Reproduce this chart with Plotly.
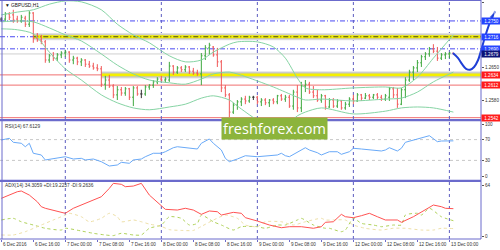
import plotly.graph_objects as go

# ---------------- data ----------------
bar_index = list(range(114))
opens = [1.2754,1.2754,1.2765,1.2763,1.2754,1.2750,1.2756,1.2743,1.2767,1.2713,
         1.2709,1.2705,1.2666,1.2675,1.2670,1.2677,1.2681,1.2683,1.2666,1.2670,
         1.2662,1.2666,1.2657,1.2653,1.2649,1.2647,1.2614,1.2623,1.2610,1.2591,
         1.2602,1.2595,1.2604,1.2586,1.2606,1.2593,1.2593,1.2608,1.2612,1.2619,
         1.2625,1.2623,1.2623,1.2653,1.2640,1.2649,1.2645,1.2651,1.2642,1.2638,
         1.2636,1.2675,1.2692,1.2694,1.2677,1.2662,1.2606,1.2591,1.2554,1.2569,
         1.2576,1.2582,1.2578,1.2586,1.2586,1.2576,1.2580,1.2574,1.2580,1.2576,
         1.2589,1.2582,1.2586,1.2567,1.2597,1.2563,1.2610,1.2614,1.2597,1.2589,
         1.2580,1.2589,1.2565,1.2580,1.2567,1.2578,1.2563,1.2571,1.2582,1.2578,
         1.2591,1.2584,1.2589,1.2586,1.2591,1.2586,1.2582,1.2586,1.2604,1.2591,
         1.2571,1.2602,1.2623,1.2640,1.2649,1.2660,1.2673,1.2679,1.2690,1.2685,
         1.2670,1.2677,1.2679,1.2681]
highs = [1.2758,1.2769,1.2769,1.2774,1.2761,1.2763,1.2761,1.2771,1.2769,1.2724,
         1.2720,1.2709,1.2679,1.2683,1.2681,1.2685,1.2688,1.2685,1.2675,1.2673,
         1.2670,1.2668,1.2664,1.2660,1.2657,1.2653,1.2632,1.2634,1.2614,1.2610,
         1.2608,1.2608,1.2606,1.2610,1.2610,1.2602,1.2612,1.2614,1.2623,1.2629,
         1.2632,1.2629,1.2662,1.2655,1.2653,1.2653,1.2655,1.2653,1.2649,1.2645,
         1.2681,1.2698,1.2703,1.2696,1.2692,1.2666,1.2612,1.2595,1.2574,1.2580,
         1.2586,1.2589,1.2589,1.2589,1.2589,1.2584,1.2584,1.2582,1.2584,1.2591,
         1.2593,1.2591,1.2591,1.2602,1.2612,1.2619,1.2623,1.2619,1.2610,1.2602,
         1.2593,1.2591,1.2584,1.2584,1.2582,1.2580,1.2576,1.2586,1.2591,1.2595,
         1.2593,1.2595,1.2593,1.2593,1.2595,1.2591,1.2593,1.2608,1.2608,1.2606,
         1.2606,1.2629,1.2645,1.2653,1.2666,1.2677,1.2683,1.2694,1.2700,1.2694,
         1.2681,1.2683,1.2683,1.2681]
lows = [1.2748,1.2750,1.2752,1.2746,1.2746,1.2746,1.2737,1.2737,1.2703,1.2705,
        1.2700,1.2660,1.2660,1.2664,1.2664,1.2670,1.2673,1.2660,1.2657,1.2655,
        1.2653,1.2651,1.2649,1.2645,1.2642,1.2608,1.2602,1.2606,1.2584,1.2580,
        1.2589,1.2589,1.2580,1.2567,1.2589,1.2584,1.2589,1.2602,1.2606,1.2614,
        1.2619,1.2617,1.2619,1.2634,1.2636,1.2640,1.2640,1.2636,1.2634,1.2632,
        1.2612,1.2666,1.2677,1.2673,1.2651,1.2597,1.2586,1.2543,1.2550,1.2559,
        1.2567,1.2571,1.2574,1.2580,1.2571,1.2567,1.2569,1.2565,1.2571,1.2571,
        1.2578,1.2576,1.2563,1.2559,1.2554,1.2554,1.2597,1.2593,1.2584,1.2576,
        1.2574,1.2559,1.2563,1.2563,1.2563,1.2559,1.2559,1.2565,1.2571,1.2576,
        1.2578,1.2582,1.2580,1.2582,1.2582,1.2578,1.2578,1.2578,1.2584,1.2563,
        1.2569,1.2584,1.2619,1.2623,1.2640,1.2651,1.2666,1.2673,1.2681,1.2664,
        1.2666,1.2668,1.2670,1.2677]
closes = [1.2754,1.2765,1.2758,1.2752,1.2750,1.2758,1.2743,1.2767,1.2713,1.2709,
          1.2705,1.2666,1.2675,1.2670,1.2677,1.2681,1.2683,1.2666,1.2670,1.2662,
          1.2666,1.2657,1.2653,1.2649,1.2647,1.2614,1.2623,1.2610,1.2591,1.2602,
          1.2595,1.2604,1.2586,1.2606,1.2593,1.2593,1.2608,1.2612,1.2619,1.2625,
          1.2623,1.2625,1.2653,1.2640,1.2649,1.2645,1.2651,1.2642,1.2638,1.2636,
          1.2675,1.2692,1.2698,1.2677,1.2662,1.2606,1.2591,1.2554,1.2569,1.2576,
          1.2582,1.2578,1.2586,1.2586,1.2576,1.2580,1.2574,1.2580,1.2576,1.2589,
          1.2582,1.2586,1.2567,1.2597,1.2563,1.2610,1.2614,1.2597,1.2589,1.2580,
          1.2589,1.2565,1.2580,1.2567,1.2578,1.2563,1.2571,1.2582,1.2578,1.2591,
          1.2584,1.2589,1.2586,1.2591,1.2586,1.2582,1.2589,1.2604,1.2591,1.2571,
          1.2602,1.2623,1.2640,1.2649,1.2660,1.2673,1.2679,1.2690,1.2685,1.2670,
          1.2677,1.2679,1.2681,1.2679]

bb_index  = [0, 4, 8, 12, 16, 20, 25, 29, 33, 37, 42, 46, 50, 53, 57, 59, 64, 68,
             71, 74, 76, 80, 88, 96, 100, 104, 108, 113]
bb_upper  = [1.2763,1.2769,1.2774,1.2786,1.2793,1.2791,1.2774,1.2743,1.2720,1.2703,
             1.2675,1.2662,1.2666,1.2683,1.2700,1.2705,1.2705,1.2694,1.2670,1.2627,
             1.2606,1.2602,1.2606,1.2608,1.2606,1.2629,1.2670,1.2720]
bb_middle = [1.2748,1.2750,1.2748,1.2735,1.2720,1.2707,1.2679,1.2655,1.2636,1.2623,
             1.2617,1.2614,1.2625,1.2636,1.2640,1.2636,1.2621,1.2608,1.2597,1.2586,
             1.2580,1.2582,1.2578,1.2582,1.2584,1.2597,1.2619,1.2640]
bb_lower  = [1.2733,1.2731,1.2722,1.2683,1.2647,1.2623,1.2591,1.2574,1.2563,1.2559,
             1.2565,1.2571,1.2584,1.2589,1.2580,1.2567,1.2537,1.2522,1.2524,1.2546,
             1.2554,1.2563,1.2550,1.2556,1.2563,1.2565,1.2563,1.2554]

rsi_index  = [0,2,3,5,6,7,8,10,11,14,16,18,20,21,23,25,27,29,30,32,33,35,36,38,40,41,
              43,44,46,49,50,52,53,55,56,57,59,61,64,66,69,70,71,72,75,76,77,79,80,82,
              84,85,87,88,90,92,95,96,97,99,100,101,103,105,107,109,110,113]
rsi_values = [69.2,72.5,64.8,62.9,56.3,62.9,43.7,40.4,30.8,34.0,37.1,32.7,34.0,30.8,
              32.7,27.5,19.2,21.2,26.3,24.4,30.8,32.7,37.1,43.7,43.7,46.7,54.4,56.3,
              54.4,51.9,62.9,71.2,62.9,50.0,34.0,27.5,32.7,39.0,37.1,39.0,40.4,43.7,
              39.0,37.1,50.0,54.4,50.0,44.8,40.4,46.7,46.7,41.7,46.7,53.3,51.9,50.0,
              48.1,50.0,54.4,48.1,53.3,64.8,69.2,73.7,77.5,66.0,67.3,67.6]

adx_index  = [0,2,4,5,7,9,10,11,13,15,16,18,20,23,25,27,28,30,31,33,35,37,39,40,41,
              44,46,48,50,52,54,55,58,60,61,64,67,70,72,75,78,80,81,83,85,86,88,90,92,
              94,96,99,100,103,105,108,110,111,113]
adx_values = [47.3,51.4,55.6,56.5,51.4,43.0,36.8,34.8,32.6,29.7,28.5,34.8,38.9,45.2,
              49.3,59.8,66.1,64.9,61.9,62.7,66.1,51.4,43.0,38.9,33.5,32.6,34.8,32.6,
              27.2,31.4,30.5,26.3,29.7,28.5,23.0,18.8,13.8,10.4,11.7,11.7,9.7,11.7,
              17.2,17.9,27.2,24.2,23.0,25.5,28.5,24.2,20.1,20.1,17.2,24.2,30.5,38.9,
              36.8,34.8,34.3]
pdi_index  = [0,3,5,8,11,15,16,20,23,26,28,30,33,35,37,40,42,45,47,49,50,53,55,58,60,
              64,66,69,71,74,75,78,81,82,85,86,88,90,93,95,98,100,101,104,105,107,110,113]
pdi_values = [20.1,22.2,17.9,13.8,9.7,7.5,9.7,6.3,3.4,1.3,0.5,3.4,1.3,1.3,9.7,13.8,24.2,
              22.2,13.8,15.9,26.3,17.9,13.8,7.5,11.7,11.7,9.7,13.8,13.8,20.1,22.2,13.8,
              9.7,9.7,5.4,7.5,22.2,15.9,13.8,11.7,13.8,13.8,26.3,28.5,26.3,34.8,24.2,19.2]
mdi_index  = [0,3,6,10,13,16,17,20,22,25,27,29,30,33,35,37,40,42,45,48,50,53,56,59,61,
              64,66,70,73,76,80,81,83,86,88,91,95,98,101,105,108,110,113]
mdi_values = [1.3,1.3,5.4,13.8,20.1,26.3,28.5,24.2,17.9,22.2,28.5,24.2,17.9,20.1,17.9,
              15.0,12.0,8.0,7.0,7.0,12.0,20.0,26.3,22.2,13.8,11.7,17.9,17.9,13.8,17.9,
              22.2,20.1,20.1,20.1,13.8,9.7,7.5,9.7,9.7,7.5,7.5,9.7,9.3]

forecast_index = [112.9,114.2,115.2,116.2,117.2,118.2,119.2,119.9,120.9,121.9,122.8,123.5]
forecast_price = [1.2681,1.2670,1.2657,1.2647,1.2645,1.2651,1.2666,1.2685,1.2715,1.2741,1.2760,1.2771]

date_tick_index = [0, 8, 16, 24, 32, 40, 48, 56, 64, 72, 80, 88, 96, 104, 112]
date_tick_labels = ["6 Dec 2016", "6 Dec 16:00", "7 Dec 00:00", "7 Dec 08:00", "7 Dec 16:00",
                    "8 Dec 00:00", "8 Dec 08:00", "8 Dec 16:00", "9 Dec 00:00", "9 Dec 08:00",
                    "9 Dec 16:00", "12 Dec 00:00", "12 Dec 08:00", "12 Dec 16:00", "13 Dec 00:00"]
day_separators = [16, 40, 64, 88, 112]

main_ticks = [1.2790, 1.2650, 1.2580]
rsi_ticks = [0, 30, 70, 100]
rsi_levels = [30, 70]
adx_ticks = [0, 64]

blue_levels = [1.2750, 1.2716, 1.2690]
price_level = 1.2679
red_levels = [1.2634, 1.2612, 1.2542]
zone_levels = [1.2716, 1.2634]
zone_start = [8, 25]

# ---------------- styling ----------------
FONT = "Liberation Sans"
GREEN = "#3ea83e"
RED = "#f05858"
BB = "#86d4a4"
FRAME = "#6b6bcc"
PH = 239.0  # plot height in px (t=0, b=11)


def ppx(y):
    return (PH - y) / PH


fig = go.Figure()

up = [i for i in bar_index if closes[i] > opens[i]]
dn = [i for i in bar_index if closes[i] < opens[i]]
dj = [i for i in bar_index if closes[i] == opens[i]]
for sel, col in ((up, GREEN), (dn, RED), (dj, "#303030")):
    fig.add_trace(go.Ohlc(
        x=sel, open=[opens[i] for i in sel], high=[highs[i] for i in sel],
        low=[lows[i] for i in sel], close=[closes[i] for i in sel],
        increasing=dict(line=dict(color=col, width=1)),
        decreasing=dict(line=dict(color=col, width=1)),
        tickwidth=0.3, xaxis="x", yaxis="y", showlegend=False, hoverinfo="skip"))

for band in (bb_upper, bb_middle, bb_lower):
    fig.add_trace(go.Scatter(x=bb_index, y=band, mode="lines",
                             line=dict(color=BB, width=1, shape="spline", smoothing=0.8),
                             xaxis="x", yaxis="y", showlegend=False, hoverinfo="skip"))

fig.add_trace(go.Scatter(x=rsi_index, y=rsi_values, mode="lines",
                         line=dict(color="#6aaaf8", width=1),
                         xaxis="x", yaxis="y2", showlegend=False, hoverinfo="skip"))

fig.add_trace(go.Scatter(x=pdi_index, y=pdi_values, mode="lines",
                         line=dict(color="#b0d25a", width=1, dash="dot", shape="spline", smoothing=0.6),
                         xaxis="x", yaxis="y3", showlegend=False, hoverinfo="skip"))
fig.add_trace(go.Scatter(x=mdi_index, y=mdi_values, mode="lines",
                         line=dict(color="#eee0a8", width=1, dash="dot", shape="spline", smoothing=0.6),
                         xaxis="x", yaxis="y3", showlegend=False, hoverinfo="skip"))
fig.add_trace(go.Scatter(x=adx_index, y=adx_values, mode="lines",
                         line=dict(color="#ff5252", width=1),
                         xaxis="x", yaxis="y3", showlegend=False, hoverinfo="skip"))

# hand-drawn forecast arrow (extends past the price axis)
fig.add_trace(go.Scatter(x=forecast_index, y=forecast_price, mode="lines+markers",
                         line=dict(color="#1f3fd6", width=2, shape="spline", smoothing=1),
                         marker=dict(symbol="arrow", angleref="previous", color="#1f3fd6",
                                     size=[0] * (len(forecast_index) - 1) + [9]),
                         xaxis="x2", yaxis="y", showlegend=False, hoverinfo="skip"))

shapes = []
# zones (gray shadow + yellow)
for lvl, st in zip(zone_levels, zone_start):
    for half, col in ((0.00078, "#e2e2e2"), (0.00055, "#c4c4c4"), (0.00032, "#f4f000")):
        shapes.append(dict(type="rect", xref="x", yref="y", x0=st, x1=119.9,
                           y0=lvl - half, y1=lvl + half, fillcolor=col,
                           line=dict(width=0), layer="below"))
# level lines
for lvl in blue_levels:
    shapes.append(dict(type="line", xref="paper", yref="y", x0=0, x1=0.962, y0=lvl, y1=lvl,
                       line=dict(color="#4a4af2", width=1, dash="5px,2px,1px,2px"), layer="below"))
shapes.append(dict(type="line", xref="x", yref="y", x0=zone_start[0], x1=119.9,
                   y0=zone_levels[0], y1=zone_levels[0],
                   line=dict(color="#4a4a20", width=1, dash="5px,2px,1px,2px"), layer="below"))
shapes.append(dict(type="line", xref="paper", yref="y", x0=0, x1=0.962, y0=price_level, y1=price_level,
                   line=dict(color="#cfcfcf", width=1), layer="below"))
for lvl in red_levels:
    shapes.append(dict(type="line", xref="paper", yref="y", x0=0, x1=0.962, y0=lvl, y1=lvl,
                       line=dict(color="#f07070", width=1), layer="below"))
# RSI levels
for lvl in rsi_levels:
    shapes.append(dict(type="line", xref="paper", yref="y2", x0=0, x1=0.962, y0=lvl, y1=lvl,
                       line=dict(color="#c8c8c8", width=1, dash="dot"), layer="below"))
# day separators
for d in day_separators:
    shapes.append(dict(type="line", xref="x", yref="paper", x0=d, x1=d, y0=0, y1=1,
                       line=dict(color="#5c5cc0", width=1, dash="dot"), layer="below"))
# frame
shapes += [
    dict(type="line", xref="paper", yref="paper", x0=0.004, x1=0.004, y0=0, y1=1, line=dict(color=FRAME, width=1)),
    dict(type="line", xref="paper", yref="paper", x0=0.962, x1=0.962, y0=0, y1=1, line=dict(color=FRAME, width=1)),
    dict(type="line", xref="paper", yref="paper", x0=0, x1=0.962, y0=ppx(0.5), y1=ppx(0.5), line=dict(color=FRAME, width=1)),
    dict(type="line", xref="paper", yref="paper", x0=0, x1=0.962, y0=0, y1=0, line=dict(color=FRAME, width=1)),
    dict(type="line", xref="paper", yref="paper", x0=0, x1=0.962, y0=ppx(120.2), y1=ppx(120.2), line=dict(color=FRAME, width=2.2)),
    dict(type="line", xref="paper", yref="paper", x0=0, x1=0.962, y0=ppx(180.8), y1=ppx(180.8), line=dict(color=FRAME, width=2.2)),
]

annotations = []
small = dict(family=FONT, size=4.6, color="#333333")
for idx, lab in zip(date_tick_index, date_tick_labels):
    annotations.append(dict(x=idx, xref="x", y=ppx(244.5), yref="paper", text=lab, showarrow=False,
                            xanchor="left", yanchor="middle", font=small))
box_levels = blue_levels + [price_level] + red_levels
box_colors = ["#2444ff", "#2444ff", "#2444ff", "#0c1478", "#ff1c1c", "#ff1c1c", "#ff1c1c"]
for lvl, col in zip(box_levels, box_colors):
    annotations.append(dict(x=0.962, xref="paper", y=lvl, yref="y", text=f"{lvl:.4f}", showarrow=False,
                            xanchor="left", yanchor="middle", bgcolor=col, width=19, height=6,
                            borderpad=0, font=dict(family=FONT, size=4.6, color="white")))
annotations += [
    dict(x=0.006, xref="paper", y=ppx(5), yref="paper", text="▼ GBPUSD,H1", showarrow=False,
         xanchor="left", yanchor="middle", font=dict(family=FONT, size=4.8, color="#111")),
    dict(x=0.006, xref="paper", y=ppx(126.5), yref="paper", text="RSI(14) 67.6129", showarrow=False,
         xanchor="left", yanchor="middle", font=dict(family=FONT, size=4.8, color="#333")),
    dict(x=0.006, xref="paper", y=ppx(185.5), yref="paper", text="ADX(14) 34.3059 +DI:19.2237 -DI:9.2636",
         showarrow=False, xanchor="left", yanchor="middle", font=dict(family=FONT, size=4.8, color="#333")),
    dict(x=274.5 / 500, xref="paper", y=ppx(128.5), yref="paper", text="freshforex.com", showarrow=False,
         xanchor="center", yanchor="middle", bgcolor="#8cb43c", width=105, height=21, borderpad=0,
         font=dict(family="Open Sans", size=14.5, color="white")),
]

ax_common = dict(showgrid=False, zeroline=False, side="right", anchor="x", ticks="outside",
                 ticklen=2, tickcolor="#555", tickfont=small, showline=False)

fig.update_layout(
    width=500, height=250, margin=dict(l=0, r=0, t=0, b=11),
    paper_bgcolor="white", plot_bgcolor="rgba(0,0,0,0)",
    xaxis=dict(domain=[0, 0.962], range=[-0.325, 119.9], showgrid=False, zeroline=False,
               showticklabels=False, ticks="outside", ticklen=2, tickcolor=FRAME,
               tickvals=date_tick_index, anchor="y3", rangeslider=dict(visible=False)),
    xaxis2=dict(domain=[0, 1], range=[-0.325, 124.675], visible=False, anchor="y"),
    yaxis=dict(domain=[ppx(120), 1], range=[1.2537, 1.2795], tickvals=main_ticks,
               tickformat=".4f", **ax_common),
    yaxis2=dict(domain=[ppx(179), ppx(121)], range=[-5.77, 105.77], tickvals=rsi_ticks, **ax_common),
    yaxis3=dict(domain=[0, ppx(182)], range=[-3.76, 67.8], tickvals=adx_ticks, **ax_common),
    shapes=shapes, annotations=annotations, showlegend=False,
)

fig.write_html("out.html")
